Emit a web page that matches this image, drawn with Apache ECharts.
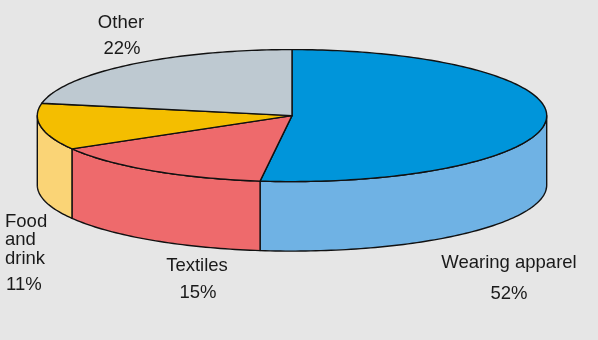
<!DOCTYPE html>
<html>
<head>
<meta charset="utf-8">
<style>html,body{margin:0;padding:0;background:#e6e6e6}#c{width:598px;height:340px}</style>
<script src="https://cdn.jsdelivr.net/npm/echarts@6/dist/echarts.min.js"></script>
</head>
<body>
<div id="c"></div>
<script>
const categories = ['Wearing apparel', 'Textiles', 'Food\nand\ndrink', 'Other'];
const shares = [52, 14.6, 11.4, 22];
const topColors = ['#0095da', '#ee6a6c', '#f4be00', '#bec9d1'];
const sideColors = ['#6fb2e4', '#ee6a6c', '#fad476', '#bec9d1'];

const cx = 292, cy = 115.6, rx = 254.7, ry = 66, depth = 69.5;
const labelLayout = [
  {x: 509, nameY: 262.5, pctY: 293.5, pctX: 509, align: 'center'},
  {x: 197, nameY: 265.5, pctY: 292.5, pctX: 198, align: 'center'},
  {x: 5, nameY: 240, pctY: 284.5, pctX: 6, align: 'left'},
  {x: 121, nameY: 22.5, pctY: 48.5, pctX: 122, align: 'center'}
];
const total = shares.reduce((a, b) => a + b, 0);
const starts = [];
shares.reduce((a, v, i) => { starts[i] = a; return a + v; }, 0);
const ang = v => v / total * 2 * Math.PI;
const pt = (a, dy) => [cx + rx * Math.sin(a), cy - ry * Math.cos(a) + (dy || 0)];
function arc(a0, a1, dy) {
  const n = Math.max(2, Math.ceil((a1 - a0) / 0.02));
  const out = [];
  for (let i = 0; i <= n; i++) out.push(pt(a0 + (a1 - a0) * i / n, dy));
  return out;
}
const line = {stroke: '#111', lineWidth: 1.4, lineJoin: 'round'};
const seriesData = shares.map(v => [v]);

const chart = echarts.init(document.getElementById('c'), null, {renderer: 'canvas'});
chart.setOption({
  backgroundColor: '#e6e6e6',
  animation: false,
  series: [
    {
      type: 'custom', coordinateSystem: 'none', silent: true, z: 1, data: seriesData,
      renderItem(params, api) {
        const i = params.dataIndex, s = starts[i];
        const a0 = Math.max(ang(s), Math.PI / 2);
        const a1 = Math.min(ang(s + api.value(0)), 3 * Math.PI / 2);
        if (a1 <= a0) return null;
        const points = arc(a0, a1, 0).concat(arc(a0, a1, depth).reverse());
        return {type: 'polygon', shape: {points}, style: Object.assign({fill: sideColors[i]}, line)};
      }
    },
    {
      type: 'custom', coordinateSystem: 'none', silent: true, z: 2, data: seriesData,
      renderItem(params, api) {
        const i = params.dataIndex, s = starts[i];
        const points = [[cx, cy]].concat(arc(ang(s), ang(s + api.value(0)), 0));
        return {type: 'polygon', shape: {points}, style: Object.assign({fill: topColors[i]}, line)};
      }
    },
    {
      type: 'custom', coordinateSystem: 'none', silent: true, z: 3, data: seriesData,
      renderItem(params, api) {
        const i = params.dataIndex, l = labelLayout[i];
        const font = '18.5px "Liberation Sans", Arial, sans-serif';
        return {type: 'group', children: [
          {type: 'text', style: {text: categories[i], x: l.x, y: l.nameY, align: l.align, verticalAlign: 'middle', font, lineHeight: 18.5, fill: '#1a1a1a'}},
          {type: 'text', style: {text: Math.round(api.value(0)) + '%', x: l.pctX, y: l.pctY, align: l.align, verticalAlign: 'middle', font, fill: '#1a1a1a'}}
        ]};
      }
    }
  ]
});
</script>
</body>
</html>
